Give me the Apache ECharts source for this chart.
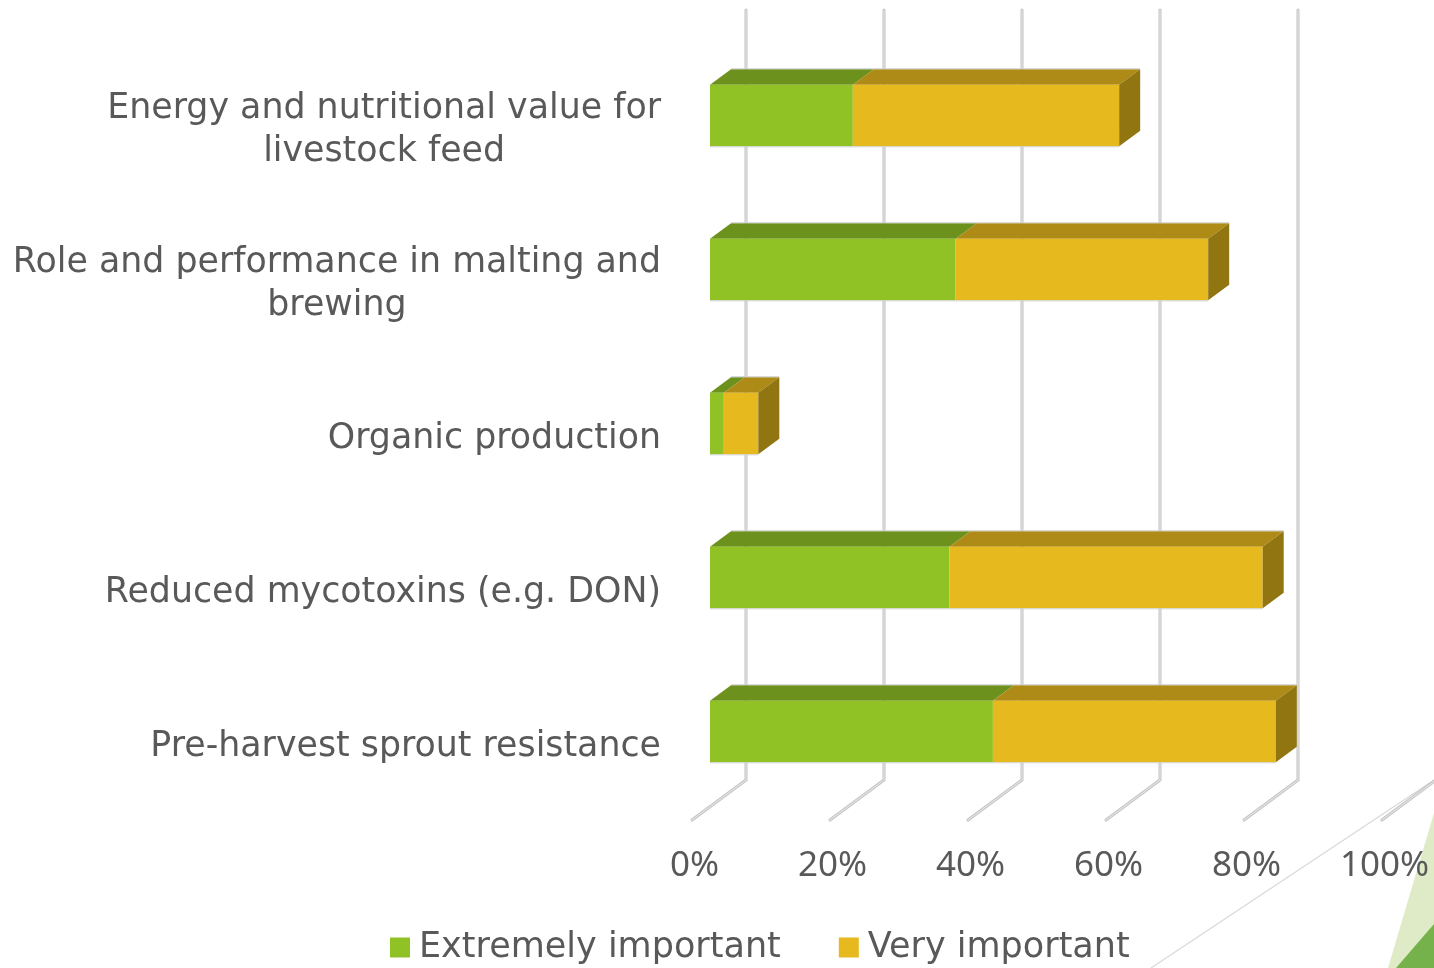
<!DOCTYPE html>
<html>
<head>
<meta charset="utf-8">
<title>Trait importance</title>
<style>
  html, body { margin: 0; padding: 0; background: #fff; }
  #chart { width: 1434px; height: 968px; }
</style>
<script src="https://cdn.jsdelivr.net/npm/echarts@6/dist/echarts.min.js"></script>
</head>
<body>
<div id="chart"></div>
<script>
const categories = [
  "Energy and nutritional value for\nlivestock feed",
  "Role and performance in malting and\nbrewing",
  "Organic production",
  "Reduced mycotoxins (e.g. DON)",
  "Pre-harvest sprout resistance"
];
const extremelyImportant = [20.7, 35.6, 2, 34.7, 41];
const veryImportant = [38.6, 36.6, 5, 45.4, 41];
const tickValues = [0, 20, 40, 60, 80, 100];

const fontFamily = "'DejaVu Sans', sans-serif";
const textColor = "#595959";

// the fake 3D look: front of the bars and back wall sit up and right of the floor edge
const barShift = [18, -11.5];
const depth = [21, -15.5];
const wallShift = [54, -40];

const chart = echarts.init(document.getElementById("chart"));

const wallItem = (params, api) => {
  const p = api.coord([api.value(0), 0]);
  const box = params.coordSys;
  const x = p[0];
  const bottom = box.y + box.height;
  const pts = [
    [x, bottom],
    [x + wallShift[0], bottom + wallShift[1]],
    [x + wallShift[0], box.y + wallShift[1]]
  ];
  const line = (color, width) => ({
    type: "polyline",
    shape: { points: pts },
    style: { fill: "none", stroke: color, lineWidth: width, lineCap: "round", lineJoin: "round" }
  });
  return { type: "group", children: [line("#c2c2c2", 3), line("#e2e2e2", 1.2)] };
};

const barItem = (front, top, side) => (params, api) => {
  const a = api.coord([api.value(0), api.value(2)]);
  const b = api.coord([api.value(1), api.value(2)]);
  const h = api.size([0, 1])[1] * 0.4;
  const x0 = a[0] + barShift[0];
  const x1 = b[0] + barShift[0];
  const y0 = a[1] + barShift[1] - h / 2;
  const y1 = y0 + h;
  const edge = { stroke: "#d0d0d0", lineWidth: 1 };
  const children = [
    {
      type: "polygon",
      shape: { points: [[x0, y0], [x0 + depth[0], y0 + depth[1]], [x1 + depth[0], y0 + depth[1]], [x1, y0]] },
      style: { fill: top }
    },
    { type: "rect", shape: { x: x0, y: y0, width: x1 - x0, height: h }, style: { fill: front } },
    { type: "line", shape: { x1: x0, y1: y1 + 0.5, x2: x1, y2: y1 + 0.5 }, style: edge },
    { type: "line", shape: { x1: x0 + depth[0], y1: y0 + depth[1] - 0.5, x2: x1 + depth[0], y2: y0 + depth[1] - 0.5 }, style: edge }
  ];
  if (side) {
    children.push({
      type: "polygon",
      shape: { points: [[x1, y0], [x1 + depth[0], y0 + depth[1]], [x1 + depth[0], y1 + depth[1]], [x1, y1]] },
      style: { fill: side }
    });
  }
  return { type: "group", children };
};

const option = {
  animation: false,
  backgroundColor: "#fff",
  grid: { left: 692, right: 52, top: 50, bottom: 148 },
  legend: {
    left: 385,
    top: 925,
    itemWidth: 20,
    itemHeight: 20,
    itemGap: 58,
    icon: "rect",
    data: ["Extremely important", "Very important"],
    textStyle: { color: textColor, fontFamily, fontSize: 35, padding: [2, 0, 0, 4] }
  },
  xAxis: {
    type: "value",
    position: "bottom",
    min: 0,
    max: 100,
    interval: 20,
    axisLine: { show: false },
    axisTick: { show: false },
    splitLine: { show: false },
    axisLabel: {
      color: textColor,
      fontFamily: "'Noto Sans', sans-serif",
      fontSize: 35,
      margin: 29,
      padding: [0, 0, 0, 5],
      hideOverlap: false,
      formatter: (v) => v + "%"
    }
  },
  yAxis: {
    type: "category",
    inverse: true,
    data: categories,
    axisLine: { show: false },
    axisTick: { show: false },
    splitLine: { show: false },
    axisLabel: {
      interval: 0,
      margin: 31,
      padding: [7, 0, 0, 0],
      formatter: (v) => v.split("\n").map((s) => "{c|" + s + "}").join("\n"),
      rich: {
        c: { align: "center", color: textColor, fontFamily, fontSize: 34.8, lineHeight: 43 }
      }
    }
  },
  series: [
    {
      name: "wall",
      type: "custom",
      silent: true,
      clip: false,
      z: 1,
      encode: { x: 0 },
      data: tickValues.map((v) => [v]),
      renderItem: wallItem
    },
    {
      name: "Extremely important",
      type: "custom",
      clip: false,
      z: 2,
      itemStyle: { color: "#90C226" },
      encode: { x: [0, 1], y: 2 },
      data: extremelyImportant.map((v, i) => [0, v, i]),
      renderItem: barItem("#90C226", "#6C911C", null)
    },
    {
      name: "Very important",
      type: "custom",
      clip: false,
      z: 3,
      itemStyle: { color: "#E6B91E" },
      encode: { x: [0, 1], y: 2 },
      data: veryImportant.map((v, i) => [extremelyImportant[i], extremelyImportant[i] + v, i]),
      renderItem: barItem("#E6B91E", "#AD8B16", "#917511")
    }
  ],
  graphic: [
    { type: "polygon", silent: true, z: 0, shape: { points: [[1434, 813], [1434, 968], [1388, 968]] }, style: { fill: "#DEEBC6" } },
    { type: "polygon", silent: true, z: 0, shape: { points: [[1434, 924], [1434, 968], [1396, 968]] }, style: { fill: "#76B24B" } },
    { type: "line", silent: true, z: 0, shape: { x1: 1151, y1: 968, x2: 1434, y2: 780 }, style: { stroke: "#d9d9d9", lineWidth: 1.2 } }
  ]
};

chart.setOption(option);
window.addEventListener("resize", () => chart.resize());
</script>
</body>
</html>
